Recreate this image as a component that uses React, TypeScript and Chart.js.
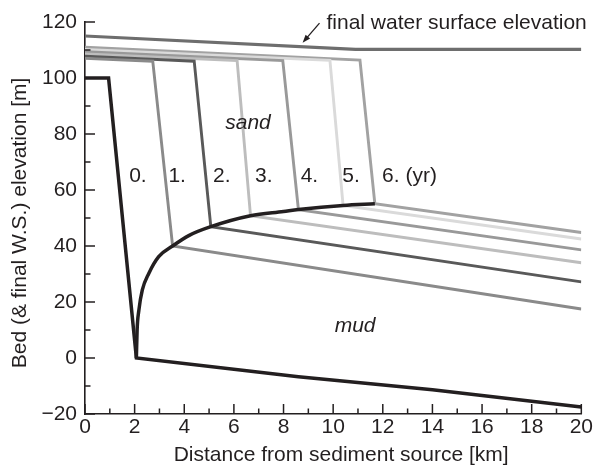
import React, { useEffect, useRef } from "react";
import { Chart, registerables } from "chart.js";

Chart.register(...registerables);

// ---- Data ----
const xMin = 0;
const xMax = 20;
const yMin = -20;
const yMax = 120;
const xTickStep = 2;
const yTickStep = 20;

// Initial bed profile (year 0)
const initialX = [0, 0.95, 2.07, 8.6, 14, 20];
const initialY = [100, 100, 0, -6.7, -11.3, -17.5];

// Sand / mud boundary (locus of foreset toes)
const boundaryX = [2.07, 2.1, 2.17, 2.31, 2.57, 2.97, 3.53, 4.2, 5.07, 6.67, 8.0, 8.6, 10.4, 11.68];
const boundaryY = [0, 10, 17, 24.3, 30.2, 36.2, 40.0, 43.8, 46.9, 50.8, 52.3, 53.0, 54.5, 55.1];

// Final water surface elevation
const waterX = [0, 10.9, 20];
const waterY = [115.0, 110.2, 110.2];

// Bed profiles for years 1..6
const profileYears = ["1", "2", "3", "4", "5", "6"];
const topStartY = [107.0, 107.8, 108.6, 109.4, 110.2, 111.0];
const frontX = [2.73, 4.4, 6.13, 7.97, 9.87, 11.08];
const frontTopY = [106.0, 106.0, 106.2, 106.2, 106.3, 106.4];
const toeX = [3.53, 5.07, 6.67, 8.6, 10.4, 11.68];
const toeY = [40.0, 46.9, 50.8, 53.0, 54.5, 55.1];
const endY = [17.5, 27.2, 34.0, 38.6, 42.5, 44.8];
const profileColors = ["#8a8a8a", "#595959", "#bdbdbd", "#999999", "#dadada", "#a2a2a2"];

// Annotations
const yearLabels = ["0.", "1.", "2.", "3.", "4.", "5.", "6. (yr)"];
const yearLabelX = [1.78, 3.36, 5.16, 6.85, 8.69, 10.37, 11.97];
const yearLabelY = 63.0;
const sandLabel = { text: "sand", x: 5.65, y: 81.8 };
const mudLabel = { text: "mud", x: 10.06, y: 9.4 };
const waterLabel = { text: "final water surface elevation", x: 9.73, y: 117.6 };
const arrowFrom = [9.45, 119.6];
const arrowTo = [8.77, 112.6];

const xTitle = "Distance from sediment source [km]";
const yTitle = "Bed (& final W.S.) elevation [m]";

// ---- Styles ----
const FONT = '"Liberation Sans", Arial, Helvetica, sans-serif';
const INK = "#231f20";
const FS = 21;

const toPoints = (xs: number[], ys: number[]) => xs.map((x, i) => ({ x, y: ys[i] }));

const decorPlugin = {
  id: "decor",
  afterDraw(chart: any) {
    const ctx: CanvasRenderingContext2D = chart.ctx;
    const area = chart.chartArea;
    const xs = chart.scales.x;
    const ys = chart.scales.y;
    const px = (v: number) => xs.getPixelForValue(v);
    const py = (v: number) => ys.getPixelForValue(v);
    ctx.save();
    // inward ticks (major + minor)
    ctx.strokeStyle = INK;
    ctx.lineWidth = 1.5;
    ctx.lineCap = "butt";
    for (let v = xMin; v <= xMax; v += 1) {
      const len = v % xTickStep === 0 ? 10 : 5.5;
      const x = px(v);
      ctx.beginPath();
      ctx.moveTo(x, area.bottom);
      ctx.lineTo(x, area.bottom - len);
      ctx.stroke();
    }
    for (let v = yMin; v <= yMax; v += 10) {
      const len = Math.abs(v % yTickStep) === 0 ? 10 : 5.5;
      const y = py(v);
      ctx.beginPath();
      ctx.moveTo(area.left, y);
      ctx.lineTo(area.left + len, y);
      ctx.stroke();
    }

    // text annotations
    ctx.fillStyle = INK;
    ctx.textBaseline = "alphabetic";
    ctx.textAlign = "left";
    ctx.font = `${FS}px ${FONT}`;
    yearLabels.forEach((t, i) => ctx.fillText(t, px(yearLabelX[i]), py(yearLabelY)));
    ctx.fillText(waterLabel.text, px(waterLabel.x), py(waterLabel.y));
    ctx.font = `italic ${FS}px ${FONT}`;
    ctx.fillText(sandLabel.text, px(sandLabel.x), py(sandLabel.y));
    ctx.fillText(mudLabel.text, px(mudLabel.x), py(mudLabel.y));

    // arrow
    const ax1 = px(arrowFrom[0]), ay1 = py(arrowFrom[1]);
    const ax2 = px(arrowTo[0]), ay2 = py(arrowTo[1]);
    const ang = Math.atan2(ay2 - ay1, ax2 - ax1);
    ctx.lineWidth = 1.3;
    ctx.beginPath();
    ctx.moveTo(ax1, ay1);
    ctx.lineTo(ax2 - Math.cos(ang) * 5, ay2 - Math.sin(ang) * 5);
    ctx.stroke();
    ctx.beginPath();
    ctx.moveTo(ax2, ay2);
    ctx.lineTo(ax2 - Math.cos(ang) * 8 + Math.sin(ang) * 3, ay2 - Math.sin(ang) * 8 - Math.cos(ang) * 3);
    ctx.lineTo(ax2 - Math.cos(ang) * 8 - Math.sin(ang) * 3, ay2 - Math.sin(ang) * 8 + Math.cos(ang) * 3);
    ctx.closePath();
    ctx.fill();

    // axis titles
    ctx.font = `${FS}px ${FONT}`;
    ctx.textAlign = "center";
    ctx.textBaseline = "middle";
    ctx.fillText(xTitle, (area.left + area.right) / 2 + 8, 455);
    ctx.translate(20, (area.top + area.bottom) / 2 + 5);
    ctx.rotate(-Math.PI / 2);
    ctx.fillText(yTitle, 0, 0);
    ctx.restore();
  },
};

export default function App() {
  const ref = useRef<HTMLCanvasElement>(null);
  useEffect(() => {
    if (!ref.current) return;
    Chart.defaults.font.family = FONT;
    Chart.defaults.color = INK;

    const profileSets = profileYears.map((yr, i) => ({
      label: `year ${yr}`,
      data: [
        { x: 0, y: topStartY[i] },
        { x: frontX[i], y: frontTopY[i] },
        { x: toeX[i], y: toeY[i] },
        { x: xMax, y: endY[i] },
      ],
      borderColor: profileColors[i],
      borderWidth: 2.9,
      showLine: true,
      pointRadius: 0,
      tension: 0,
    }));

    const chart = new Chart(ref.current, {
      type: "scatter",
      data: {
        datasets: [
          {
            label: "sand/mud boundary",
            data: toPoints(boundaryX, boundaryY),
            borderColor: INK,
            borderWidth: 3.5,
            showLine: true,
            pointRadius: 0,
            cubicInterpolationMode: "monotone",
          },
          {
            label: "year 0",
            data: toPoints(initialX, initialY),
            borderColor: INK,
            borderWidth: 3.5,
            showLine: true,
            pointRadius: 0,
            tension: 0,
          },
          ...profileSets,
          {
            label: "final water surface",
            data: toPoints(waterX, waterY),
            borderColor: "#6e6e6e",
            borderWidth: 3.2,
            showLine: true,
            pointRadius: 0,
            tension: 0,
          },
        ] as any,
      },
      options: {
        animation: false,
        responsive: false,
        layout: { padding: { top: 22, right: 9, left: 0, bottom: 0 } },
        plugins: { legend: { display: false }, tooltip: { enabled: false } },
        scales: {
          x: {
            type: "linear",
            min: xMin,
            max: xMax,
            grid: { display: false, drawTicks: false },
            border: { display: true, color: INK, width: 1.6 },
            ticks: { stepSize: xTickStep, font: { size: FS }, color: INK, padding: 1, maxRotation: 0 },
            afterFit(s: any) {
              s.height = 52;
            },
          },
          y: {
            type: "linear",
            min: yMin,
            max: yMax,
            grid: { display: false, drawTicks: false },
            border: { display: true, color: INK, width: 1.6 },
            ticks: {
              stepSize: yTickStep,
              font: { size: FS },
              color: INK,
              padding: 8,
              callback: (v: any) => String(v).replace("-", "\u2212"),
            },
            afterFit(s: any) {
              s.width = 85;
            },
          },
        },
      },
      plugins: [decorPlugin],
    });
    return () => chart.destroy();
  }, []);

  return (
    <canvas
      ref={ref}
      width={594}
      height={466}
      style={{ position: "absolute", left: 0, top: 0, display: "block" }}
    />
  );
}
